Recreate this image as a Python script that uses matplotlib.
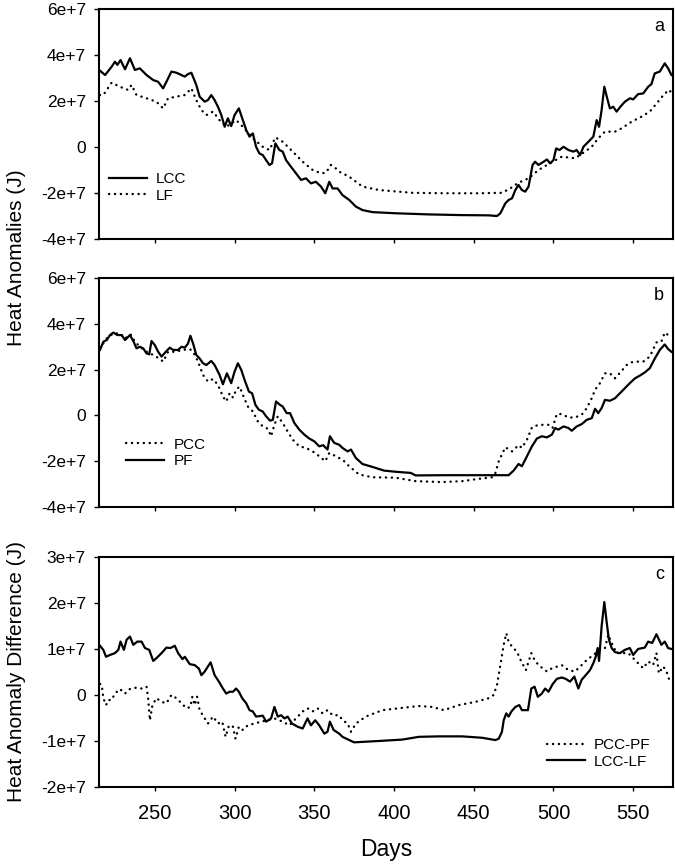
import matplotlib
matplotlib.use('Agg')
import matplotlib.pyplot as plt
from matplotlib.lines import Line2D

plt.rcParams['font.family'] = ['Liberation Sans', 'DejaVu Sans']

# values are in units of 1e7 J
SCALE = 1e7

# panel a
a_lcc_days = [215.6, 218.8, 222.9, 225, 226.5, 228.5, 231.3, 234.4, 237.5, 240.6, 244.8, 249, 252, 255.2,
              257.3, 260.4, 263.5, 266.7, 268.8, 270.8, 272.9, 276, 278.1, 281.3, 283.3, 285.4, 287.5,
              289.6, 291.7, 293.8, 295.8, 297.9, 300, 302.7, 305.2, 307.3, 309.4, 311.5, 313.5, 315.6,
              317.7, 319.8, 321.9, 323.5, 325.6, 328.1, 330.2, 332.3, 335.4, 338.5, 341.7, 344.8, 347.9,
              351, 354.2, 356.9, 359.4, 361.5, 364.6, 367.7, 371.9, 376.1, 380.2, 386.5, 401, 421.9,
              442.7, 459.4, 464.6, 466.7, 469.8, 471.9, 474, 476.1, 478.1, 480.2, 482.3, 484.4, 486.9,
              488.5, 490.6, 493.8, 495.9, 497.9, 500, 501.7, 503.8, 506.3, 509.4, 512.5, 514.6, 516.7,
              518.8, 521.9, 525, 527.1, 528.6, 530.2, 531.9, 534, 535.4, 537.5, 539.6, 542.3, 544.8,
              548, 550, 553.1, 556.3, 559.4, 561.5, 563.5, 566.7, 569.8, 571.9, 574]
a_lcc = [3.32, 3.13, 3.49, 3.71, 3.57, 3.78, 3.38, 3.86, 3.35, 3.42, 3.13, 2.91, 2.84, 2.55,
         2.84, 3.28, 3.23, 3.13, 3.06, 3.17, 3.23, 2.70, 2.19, 1.97, 2.04, 2.26, 2.04,
         1.75, 1.39, 0.88, 1.25, 0.91, 1.39, 1.68, 1.17, 0.74, 0.45, 0.59, 0.01, -0.28,
         -0.35, -0.57, -0.78, -0.71, 0.16, -0.13, -0.20, -0.57, -0.86, -1.14, -1.43, -1.36, -1.58,
         -1.51, -1.72, -2.01, -1.51, -1.80, -1.80, -2.09, -2.30, -2.59, -2.74, -2.83, -2.88, -2.93,
         -2.96, -2.97, -3.00, -2.88, -2.45, -2.30, -2.23, -1.87, -1.65, -1.87, -1.94, -1.72, -0.78,
         -0.64, -0.78, -0.64, -0.54, -0.71, -0.57, -0.06, -0.13, 0.01, -0.13, -0.20, -0.13, -0.35,
         0.01, 0.23, 0.45, 1.17, 0.88, 1.61, 2.62, 2.04, 1.68, 1.75, 1.54, 1.78, 1.97,
         2.12, 2.07, 2.30, 2.33, 2.62, 2.74, 3.20, 3.28, 3.64, 3.42, 3.13]
a_lf_days = [215.5, 217.7, 222.9, 228.1, 233.3, 235.4, 238.5, 244.8, 251, 255.2, 258.3, 263.5, 268.8,
             272.9, 276, 279.2, 282.3, 286.5, 290.6, 294.8, 301, 305.2, 311.5, 317.7, 321.9, 325.6,
             330.2, 336.5, 342.7, 349, 354.2, 357.3, 360.4, 363.5, 365.6, 371.9, 380.2, 390.6, 411.5,
             432.3, 453.1, 467.7, 472.9, 478.1, 484.4, 490.6, 496.9, 505.2, 513.5, 517.7, 524, 528.1,
             532.3, 538.6, 542.7, 549, 555.2, 560.4, 565.6, 569.8, 573, 574]
a_lf = [2.26, 2.26, 2.80, 2.62, 2.48, 2.70, 2.26, 2.12, 1.97, 1.68, 2.12, 2.19, 2.26,
        2.55, 2.04, 1.61, 1.39, 1.54, 1.17, 0.88, 1.17, 0.88, 0.38, 0.01, -0.13, 0.42,
        0.23, -0.20, -0.64, -1.00, -1.14, -1.12, -0.78, -0.93, -1.07, -1.29, -1.72, -1.87, -1.99,
        -2.01, -2.01, -1.99, -1.80, -1.55, -1.36, -1.00, -0.74, -0.42, -0.49, -0.30, 0.01, 0.38,
        0.67, 0.67, 0.81, 1.10, 1.32, 1.54, 1.97, 2.33, 2.48, 2.26]

# panel b
b_pf_days = [215.6, 217.7, 219.8, 221.9, 224, 226.5, 229.2, 231.3, 234.4, 236.5, 238.5, 240.6, 242.7,
             244.8, 246.5, 247.9, 250, 252.1, 254.2, 256.9, 259.4, 261.5, 264.6, 266.7, 268.8, 270.8,
             272.3, 274, 276, 278.1, 280.2, 282.3, 285.4, 287.5, 290.6, 292.7, 295.2, 297.9, 300,
             302.1, 304.2, 306.3, 309, 311, 313.1, 315.2, 317.7, 319.8, 322.3, 324, 326, 328.5, 330.2,
             332.7, 334.8, 337.5, 340.6, 343.8, 346.9, 350, 353.1, 355.6, 358.3, 359.8, 362.5, 365.6,
             367.7, 370.9, 373, 376.1, 380.2, 386.5, 393.8, 401, 410.4, 413.6, 432.3, 453.1, 471.9,
             475, 478.1, 480.2, 483.4, 486.5, 489.6, 492.7, 495.8, 499, 501.1, 503.1, 506.3, 509.4,
             511.5, 514.6, 517.7, 520.9, 524, 526.1, 528.1, 530.2, 532.3, 535.4, 538.6, 541.7, 544.8,
             547.9, 551.1, 554.2, 557.3, 560.4, 563.6, 566.7, 569.8, 571.9, 574]
b_pf = [2.86, 3.22, 3.29, 3.51, 3.62, 3.51, 3.51, 3.29, 3.51, 3.25, 2.93, 3.00, 2.93,
        2.71, 2.67, 3.25, 3.07, 2.78, 2.57, 2.78, 2.96, 2.86, 2.86, 3.00, 2.96, 3.14,
        3.48, 3.14, 2.64, 2.49, 2.28, 2.20, 2.38, 2.20, 1.77, 1.36, 1.84, 1.41, 1.91,
        2.28, 1.99, 1.55, 1.04, 0.97, 0.46, 0.25, 0.17, -0.04, -0.23, -0.19, 0.61, 0.46, 0.39,
        0.10, 0.10, -0.33, -0.62, -0.84, -1.01, -1.13, -1.35, -1.30, -1.49, -0.91, -1.20, -1.28,
        -1.42, -1.57, -1.49, -1.86, -2.12, -2.25, -2.41, -2.46, -2.51, -2.62, -2.61, -2.61, -2.61,
        -2.41, -2.12, -2.22, -1.78, -1.35, -1.01, -0.91, -0.96, -0.84, -0.55, -0.62, -0.48, -0.55,
        -0.67, -0.48, -0.38, -0.19, -0.12, 0.29, 0.10, 0.32, 0.68, 0.64, 0.75, 0.97, 1.19,
        1.41, 1.62, 1.74, 1.88, 2.06, 2.49, 2.86, 3.10, 2.90, 2.78]
b_pcc_days = [215.6, 219.8, 224, 228.1, 231.3, 234.8, 237.5, 240.6, 244.8, 249, 252.7, 255.2, 258.3,
              262.5, 267.7, 271.9, 274, 277.1, 280.2, 283.3, 286.5, 289.6, 292.7, 294.8, 296.9, 299,
              301, 303.1, 305.2, 308.3, 311.5, 314.6, 317.7, 320.8, 322.9, 325, 327.1, 330.2, 333.3,
              336.5, 340.6, 344.8, 349, 353.1, 356.9, 359.4, 363.5, 365.6, 367.7, 371.9, 378.1, 386.5,
              401, 413.6, 430.2, 442.7, 453.1, 461.5, 463.6, 465.7, 469.8, 474, 478.1, 480.2, 483.4,
              486.5, 490.6, 496.9, 499.4, 502.1, 505.2, 509.4, 513.5, 517.7, 520.9, 524, 526.1, 529.2,
              532.3, 535.4, 538.6, 542.3, 545.9, 549, 552.1, 556.3, 560.4, 564.6, 567.7, 569.8, 571.9,
              574]
b_pcc = [2.93, 3.36, 3.58, 3.58, 3.36, 3.54, 3.22, 3.00, 2.78, 2.64, 2.49, 2.35, 2.78,
         2.78, 2.86, 2.90, 2.78, 2.35, 1.77, 1.48, 1.59, 1.33, 0.83, 0.61, 0.97, 0.78,
         1.12, 1.26, 0.90, 0.39, 0.17, -0.26, -0.48, -0.58, -0.91, -0.41, -0.04, -0.33, -0.70,
         -1.06, -1.35, -1.42, -1.57, -1.78, -2.00, -1.64, -1.78, -1.86, -1.93, -2.22, -2.58, -2.70,
         -2.72, -2.87, -2.91, -2.87, -2.77, -2.70, -2.51, -2.00, -1.39, -1.57, -1.30, -1.42, -1.06,
         -0.52, -0.41, -0.41, -0.55, 0.06, 0.06, -0.09, -0.09, 0.03, 0.32, 0.75, 1.12, 1.41,
         1.84, 1.84, 1.62, 1.91, 2.20, 2.32, 2.35, 2.35, 2.57, 3.19, 3.22, 3.62, 3.51,
         3.39]

# panel c
c_lcclf_days = [215.6, 217.7, 219.4, 221.9, 225, 227.1, 228.5, 230.6, 232.3, 234.4, 236.5, 239, 241.7,
                243.8, 246.5, 249, 251, 254.2, 257.3, 259.8, 262.5, 264.6, 267.3, 268.8, 271.9, 275,
                277.7, 279.2, 281.3, 283.3, 285, 287.5, 290.2, 292.7, 294.8, 296.9, 299, 301, 302.7,
                304.8, 307.3, 309.4, 311.5, 313.5, 317.7, 319.8, 322.9, 325, 327.1, 329.2, 331.3, 333.3,
                336, 339.6, 342.7, 345.8, 347.9, 350.6, 353.1, 356.3, 358.3, 359.8, 362.1, 365.6,
                367.7, 371.9, 375, 390.6, 405.2, 415.6, 428.1, 442.7, 455.2, 463.6, 465.7, 467.7, 468.8,
                470.4, 471.9, 473.6, 476.1, 478.6, 480.2, 484, 486.1, 488.2, 490.2, 492.7, 494.8, 496.9,
                499.4, 502.1, 505.2, 507.7, 510.4, 513.1, 515.6, 517.7, 520.2, 522.9, 525, 526.5, 527.7,
                528.6, 530.2, 531.9, 533.6, 534.8, 536.5, 538.6, 541.7, 544.8, 547.9, 550, 553.1, 557.3,
                559.4, 561.9, 564.6, 567.7, 569.8, 571.9, 574]
c_lcclf = [1.07, 0.98, 0.83, 0.87, 0.91, 0.98, 1.16, 0.98, 1.20, 1.27, 1.09, 1.16, 1.16,
           1.02, 0.98, 0.74, 0.80, 0.91, 1.03, 1.02, 1.07, 0.91, 0.78, 0.83, 0.67, 0.65,
           0.57, 0.43, 0.51, 0.62, 0.71, 0.43, 0.29, 0.14, 0.03, 0.07, 0.07, 0.14, 0.07,
           -0.07, -0.18, -0.33, -0.36, -0.47, -0.45, -0.58, -0.51, -0.26, -0.47, -0.44, -0.51, -0.47,
           -0.62, -0.69, -0.73, -0.51, -0.66, -0.55, -0.66, -0.84, -0.80, -0.58, -0.76, -0.84,
           -0.91, -0.98, -1.03, -1.00, -0.97, -0.91, -0.90, -0.90, -0.93, -0.98, -0.95, -0.80, -0.55,
           -0.40, -0.47, -0.36, -0.26, -0.22, -0.33, -0.33, 0.14, 0.18, -0.04, 0.03, 0.14, 0.07,
           0.23, 0.35, 0.38, 0.35, 0.29, 0.40, 0.14, 0.33, 0.43, 0.54, 0.69, 0.83, 1.02,
           0.74, 1.49, 2.02, 1.52, 1.20, 1.02, 0.93, 0.91, 0.98, 1.02, 0.87, 1.00, 1.03,
           1.16, 1.13, 1.32, 1.09, 1.16, 1.02, 1.00]
c_pccpf_days = [215.6, 216.7, 217.7, 219.4, 220.8, 222.9, 225, 228.1, 231.3, 234.4, 238.5, 241.7, 244.8,
                245.8, 246.9, 248.5, 251, 254.2, 257.3, 260.4, 263.5, 266.7, 269.8, 272.3, 273.5, 275,
                276.5, 278.1, 280.6, 283.3, 286.5, 289.6, 292.3, 294.4, 296.5, 299, 300.6, 302.7, 305.2,
                308.3, 312.5, 316.7, 320.8, 325, 330.2, 334.4, 339.6, 342.7, 345.8, 348.9, 352.1, 355.2,
                358.3, 361.5, 365.6, 367.7, 370.9, 373, 376.1, 382.3, 392.7, 405.2, 415.6, 424, 431.3,
                440.6, 451.1, 459.4, 462.5, 464.6, 466.7, 468.8, 470.4, 471.9, 474, 477.1, 479.8, 482.7,
                486.1, 488.6, 491.7, 495.9, 499, 505.2, 509.4, 513.5, 517.7, 520.9, 525, 529.2, 532.3,
                534.4, 536.5, 539.6, 542.7, 546.9, 550, 553.1, 556.3, 559.4, 562.5, 564.6, 566.1, 568.8,
                570.9, 573]
c_pccpf = [0.24, 0.22, -0.07, -0.22, -0.11, -0.11, 0.03, 0.13, 0.03, 0.13, 0.16, 0.14, 0.18,
           -0.07, -0.55, -0.22, -0.07, -0.15, -0.18, 0.00, -0.07, -0.18, -0.29, -0.26, -0.04, -0.22,
           -0.04, -0.33, -0.47, -0.62, -0.47, -0.62, -0.58, -0.91, -0.66, -0.69, -0.95, -0.69, -0.76,
           -0.66, -0.62, -0.58, -0.55, -0.51, -0.58, -0.66, -0.47, -0.36, -0.29, -0.36, -0.29, -0.40,
           -0.33, -0.44, -0.44, -0.55, -0.62, -0.80, -0.62, -0.47, -0.33, -0.28, -0.24, -0.26, -0.33,
           -0.22, -0.15, -0.07, 0.00, 0.22, 0.65, 1.09, 1.34, 1.16, 1.05, 0.94, 0.73, 0.54,
           0.91, 0.73, 0.62, 0.51, 0.58, 0.65, 0.54, 0.51, 0.65, 0.76, 0.87, 0.98, 1.02,
           1.31, 1.13, 0.91, 0.91, 0.91, 0.80, 0.69, 0.58, 0.73, 0.65, 0.91, 0.47, 0.62,
           0.51, 0.29]

x_ticks = [250, 300, 350, 400, 450, 500, 550]
ab_yticks = [6, 4, 2, 0, -2, -4]
ab_ylabels = ['6e+7', '4e+7', '2e+7', '0', '-2e+7', '-4e+7']
c_yticks = [3, 2, 1, 0, -1, -2]
c_ylabels = ['3e+7', '2e+7', '1e+7', '0', '-1e+7', '-2e+7']

solid = dict(color='black', lw=1.6, linestyle='-')
dotted = dict(color='black', lw=1.7, linestyle=(0, (0.1, 2.4)), dash_capstyle='round')

fig = plt.figure(figsize=(6.75, 8.67), dpi=100)
ax_a = fig.add_axes([0.1467, 0.7243, 0.8504, 0.2653])
ax_b = fig.add_axes([0.1467, 0.4152, 0.8504, 0.2641])
ax_c = fig.add_axes([0.1467, 0.0923, 0.8504, 0.2653])


def style(ax, yticks, ylabels, letter, show_x):
    ax.set_xlim(215, 575)
    ax.set_ylim(yticks[-1] * SCALE, yticks[0] * SCALE)
    ax.set_yticks([t * SCALE for t in yticks])
    ax.set_yticklabels(ylabels, fontsize=12.5)
    ax.set_xticks(x_ticks)
    if show_x:
        ax.set_xticklabels([str(t) for t in x_ticks], fontsize=14.5)
    else:
        ax.set_xticklabels([])
    ax.tick_params(axis='y', direction='out', length=3.5, width=1, pad=6, colors='black')
    ax.tick_params(axis='x', direction='out', length=3, width=1, pad=9, colors='black')
    for s in ax.spines.values():
        s.set_linewidth(1.5)
    ax.text(0.984, 0.925, letter, transform=ax.transAxes, ha='right', va='center', fontsize=13)


# a
ax_a.plot(a_lcc_days, [v * SCALE for v in a_lcc], **solid)
ax_a.plot(a_lf_days, [v * SCALE for v in a_lf], **dotted)
style(ax_a, ab_yticks, ab_ylabels, 'a', False)
h = [Line2D([], [], **solid), Line2D([], [], **dotted)]
ax_a.legend(h, ['LCC', 'LF'], loc='center left', bbox_to_anchor=(0.017, 0.224), frameon=False,
            fontsize=11, handlelength=2.5, handletextpad=0.6, labelspacing=0.15,
            borderpad=0, borderaxespad=0)

# b
ax_b.plot(b_pcc_days, [v * SCALE for v in b_pcc], **dotted)
ax_b.plot(b_pf_days, [v * SCALE for v in b_pf], **solid)
style(ax_b, ab_yticks, ab_ylabels, 'b', False)
h = [Line2D([], [], **dotted), Line2D([], [], **solid)]
ax_b.legend(h, ['PCC', 'PF'], loc='center left', bbox_to_anchor=(0.047, 0.236), frameon=False,
            fontsize=11, handlelength=2.5, handletextpad=0.6, labelspacing=0.15,
            borderpad=0, borderaxespad=0)

# c
ax_c.plot(c_pccpf_days, [v * SCALE for v in c_pccpf], **dotted)
ax_c.plot(c_lcclf_days, [v * SCALE for v in c_lcclf], **solid)
style(ax_c, c_yticks, c_ylabels, 'c', True)
h = [Line2D([], [], **dotted), Line2D([], [], **solid)]
ax_c.legend(h, ['PCC-PF', 'LCC-LF'], loc='center left', bbox_to_anchor=(0.78, 0.146), frameon=False,
            fontsize=11, handlelength=2.5, handletextpad=0.6, labelspacing=0.15,
            borderpad=0, borderaxespad=0)

fig.text(0.024, 0.7024, 'Heat Anomalies (J)', rotation=90, ha='center', va='center', fontsize=15)
fig.text(0.024, 0.225, 'Heat Anomaly Difference (J)', rotation=90, ha='center', va='center', fontsize=15)
fig.text(0.572, 0.02, 'Days', ha='center', va='center', fontsize=16.5)

fig.savefig('out.png', dpi=100)
